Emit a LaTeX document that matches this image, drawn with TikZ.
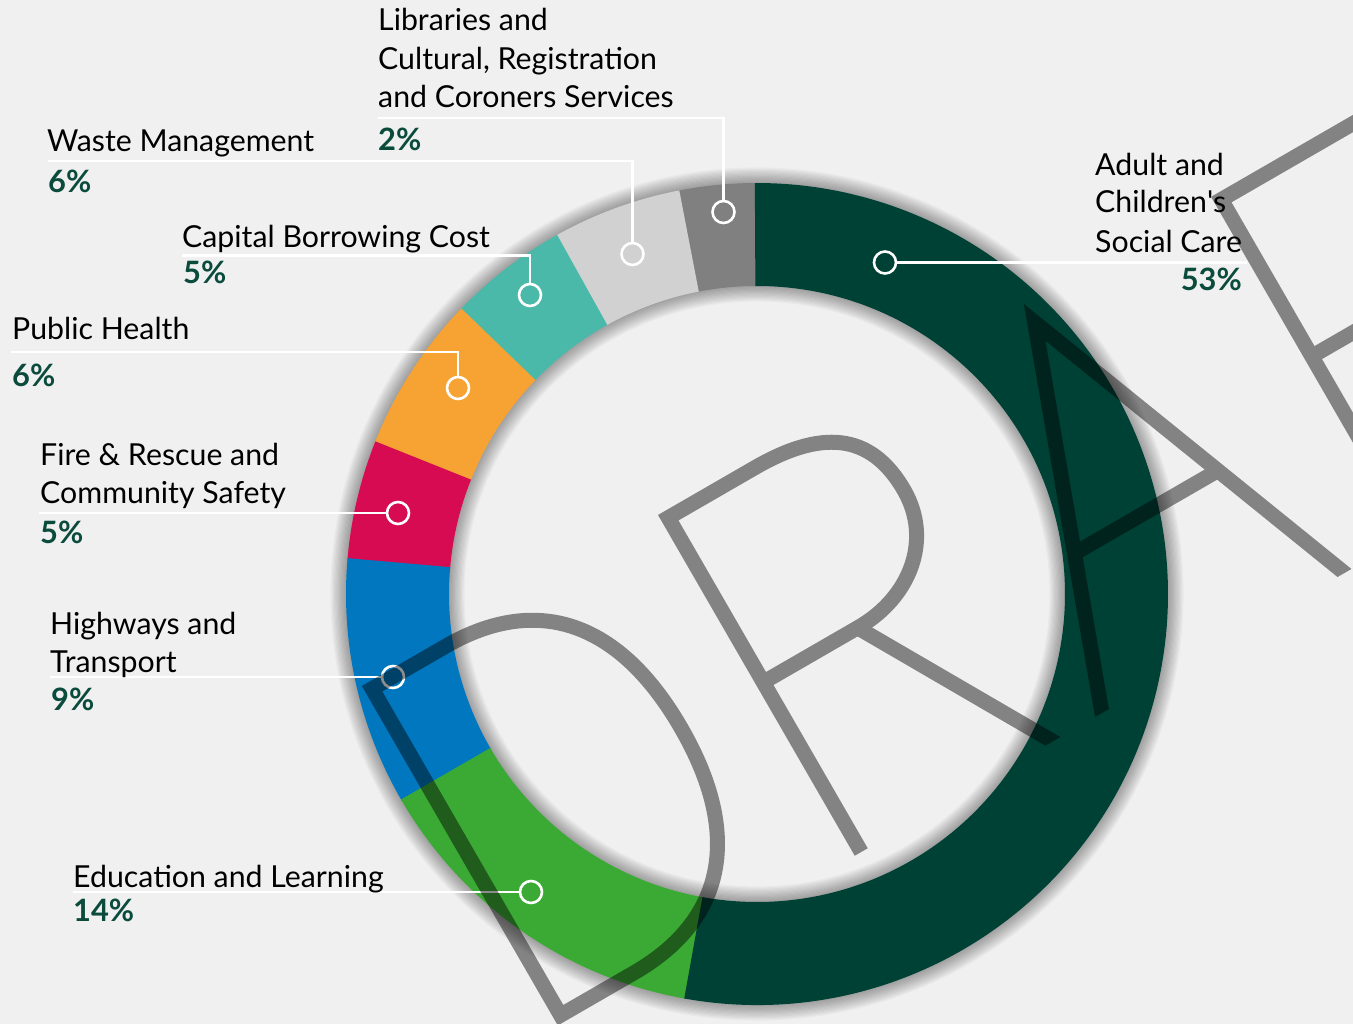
\documentclass[tikz,border=0pt]{standalone}
\usepackage{fontspec}
\setmainfont{Lato}
\usepackage{tikz}
\definecolor{bg}{HTML}{F0F0F0}
\definecolor{cAdult}{RGB}{0,65,53}
\definecolor{cEdu}{RGB}{59,170,53}
\definecolor{cHwy}{RGB}{0,119,190}
\definecolor{cFire}{RGB}{214,11,82}
\definecolor{cPH}{RGB}{246,163,51}
\definecolor{cCap}{RGB}{75,185,169}
\definecolor{cWaste}{RGB}{209,209,209}
\definecolor{cLib}{RGB}{128,128,128}
\definecolor{pct}{RGB}{10,75,60}
\newlength\calw
\newlength\calb
\settowidth\calw{\fontsize{10pt}{12pt}\selectfont Community Safety}
\settowidth\calb{\fontsize{10pt}{12pt}\selectfont\bfseries 53\%}
\pgfmathsetmacro\fsz{2457/\calw}
\pgfmathsetmacro\bsz{610/\calb}
\tikzset{
  lbl/.style={anchor=base west, inner sep=0pt, text=black, font=\fontsize{\fsz pt}{\fsz pt}\selectfont},
  pc/.style={anchor=base west, inner sep=0pt, text=pct, font=\fontsize{\bsz pt}{\bsz pt}\selectfont\bfseries},
  lead/.style={draw=white, line width=2.6pt},
  mk/.style={circle, draw=white, line width=2.6pt, minimum size=22pt, inner sep=0pt},
  wm/.style={draw=black, line width=15pt, line join=miter, miter limit=10},
}
\begin{document}
\begin{tikzpicture}[x=1pt,y=1pt]
\useasboundingbox (0,0) rectangle (1353,-1024);
\clip (0,0) rectangle (1353,-1024);
\fill[bg] (0,0) rectangle (1353,-1024);
\coordinate (C) at (757,-594);
% soft shadows of the ring
\foreach \i in {1,...,13}{
  \pgfmathsetmacro\lw{2.4*\i}
  \draw[black, opacity=0.027, line width=\lw pt] (C) circle[radius=411pt];
  \draw[black, opacity=0.027, line width=\lw pt] (C) circle[radius=308pt];
}
% ring segments
\foreach \c/\a/\b in {cLib/90/100.9, cWaste/100.9/119.1, cCap/119.1/136, cPH/136/158.2, cFire/158.2/175, cHwy/175/210, cEdu/210/259.8, cAdult/259.8/450}{
  \pgfmathsetmacro\bb{\b+0.3}
  \fill[\c] ([shift={(\a:411pt)}]C) arc[start angle=\a, end angle=\bb, radius=411pt]
     -- ([shift={(\bb:308pt)}]C) arc[start angle=\bb, end angle=\a, radius=308pt] -- cycle;
}
% markers
\node[mk] (mLib) at (723.5,-212) {};
\node[mk] (mWaste) at (632.5,-254) {};
\node[mk] (mCap) at (530,-295) {};
\node[mk] (mPH) at (458,-388) {};
\node[mk] (mFire) at (398,-513) {};
\node[mk] (mHwy) at (393,-677) {};
\node[mk] (mEdu) at (531,-892) {};
\node[mk] (mAdult) at (885,-262.5) {};
% leader end points
\coordinate (lLib) at (378,-118);
\coordinate (lWaste) at (48,-161);
\coordinate (lCap) at (182,-255.5);
\coordinate (lPH) at (11,-352);
\coordinate (lFire) at (39,-513);
\coordinate (lHwy) at (50,-677);
\coordinate (lEdu) at (73,-892);
\coordinate (lAdult) at (1247,-262.5);
\draw[lead] (lLib) -| (mLib.north);
\draw[lead] (lWaste) -| (mWaste.north);
\draw[lead] (lCap) -| (mCap.north);
\draw[lead] (lPH) -| (mPH.north);
\draw[lead] (lFire) -- (mFire.west);
\draw[lead] (lHwy) -- (mHwy.west);
\draw[lead] (lEdu) -- (mEdu.west);
\draw[lead] (mAdult.east) -- (lAdult);
% labels
\node[lbl] (tLib1) at (378,-31) {Libraries and};
\node[lbl] (tLib2) at (378,-70) {Cultural, Registration};
\node[lbl] (tLib3) at (378,-108) {and Coroners Services};
\node[pc] (pLib) at (378,-150.5) {2\%};
\node[lbl] (tWaste) at (47,-152) {Waste Management};
\node[pc] (pWaste) at (48,-192.5) {6\%};
\node[lbl] (tCap) at (182,-248) {Capital Borrowing Cost};
\node[pc] (pCap) at (183,-284) {5\%};
\node[lbl] (tPH) at (12,-340) {Public Health};
\node[pc] (pPH) at (12,-387) {6\%};
\node[lbl] (tFire1) at (40,-465) {Fire \& Rescue and};
\node[lbl] (tFire2) at (40,-503) {Community Safety};
\node[pc] (pFire) at (40,-543) {5\%};
\node[lbl] (tHwy1) at (50,-634) {Highways and};
\node[lbl] (tHwy2) at (50,-672) {Transport};
\node[pc] (pHwy) at (51,-710.5) {9\%};
\node[lbl] (tEdu) at (73,-887) {Education and Learning};
\node[pc] (pEdu) at (73,-921) {14\%};
\node[lbl] (tAd1) at (1095,-176) {Adult and};
\node[lbl] (tAd2) at (1095,-213) {Children\textquotesingle s};
\node[lbl] (tAd3) at (1095,-253) {Social Care};
\node[pc, anchor=base east] (pAd) at (1242,-291) {53\%};
% DRAFT watermark, drawn in the rotated letter frame (baseline b=0)
\begin{scope}[transparency group, opacity=0.45]
  \begin{scope}[shift={(1102,-713)}, rotate=30]
    \clip (-900,0) rectangle (900,900);
    % D
    \draw[wm] (-620,386) -- (-620,9) -- (-535,9)
       .. controls (-429,9) and (-372,75) .. (-372,197.5)
       .. controls (-372,320) and (-429,386) .. (-535,386) -- cycle;
    % R
    \draw[wm] (-278,-20) -- (-278,386) -- (-178,386)
       .. controls (-103,386) and (-60,360) .. (-60,292)
       .. controls (-60,235) and (-108,196) .. (-168,196) -- (-278,196);
    \draw[wm] (-169,196) -- (-45.3,-20);
    % A
    \draw[wm] (-7.4,-20) -- (137,372) -- (287.7,-20);
    \draw[wm] (56,152) -- (222,152);
    % F
    \draw[wm] (360,-20) -- (360,385) -- (620,385);
    \draw[wm] (360,204) -- (620,204);
  \end{scope}
\end{scope}
\end{tikzpicture}
\end{document}
